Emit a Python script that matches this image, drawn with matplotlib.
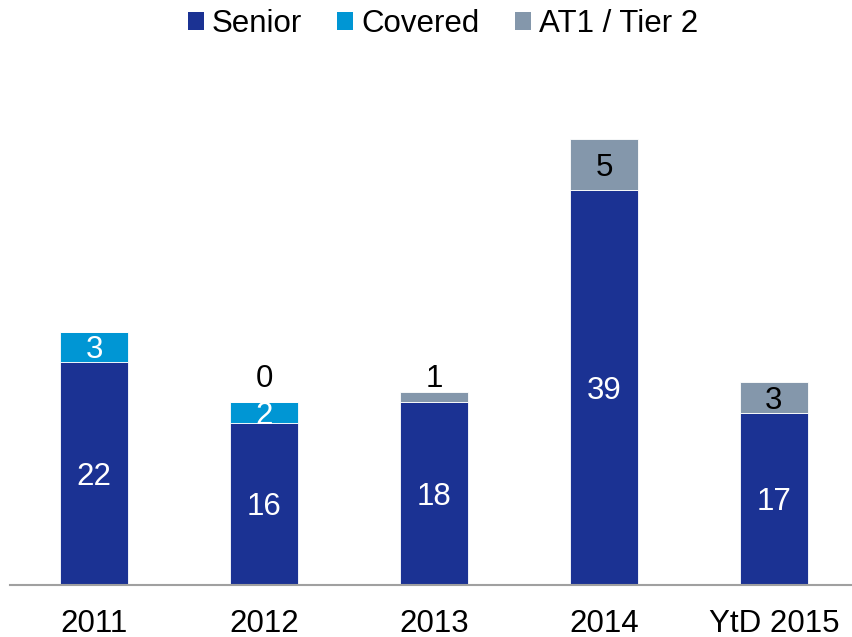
import matplotlib
matplotlib.use("Agg")
import matplotlib.pyplot as plt
from matplotlib.patches import Patch
import numpy as np

categories = ["2011", "2012", "2013", "2014", "YtD 2015"]
senior = [22, 16, 18, 39, 17]
covered = [3, 2, 0, 0, 0]
at1 = [0, 0, 1, 5, 3]
# labels shown for each series (None = no label)
senior_lbl = ["22", "16", "18", "39", "17"]
covered_lbl = ["3", "2", None, None, None]
at1_lbl = [None, "0", "1", "5", "3"]

c_senior = "#1B3293"
c_covered = "#0096D4"
c_at1 = "#8497AB"

plt.rcParams['font.family'] = ['Liberation Sans', 'DejaVu Sans']

fig = plt.figure(figsize=(8.53, 6.37), dpi=100)
ax = fig.add_axes([10/853, 52/637, 843/853, 507/637])

x = np.arange(len(categories))
w = 0.4
s = np.array(senior, float)
c = np.array(covered, float)
a = np.array(at1, float)
ax.bar(x, s, w, color=c_senior, edgecolor="white", linewidth=0.6)
ax.bar(x, c, w, bottom=s, color=c_covered, edgecolor="white", linewidth=0.6)
ax.bar(x, a, w, bottom=s + c, color=c_at1, edgecolor="white", linewidth=0.6)

fs = 22.5
off = (0, -2.5)


def lab(xx, yy, t, col):
    ax.annotate(t, (xx, yy), xytext=off, textcoords="offset points",
                ha="center", va="center", color=col, fontsize=fs)


for i in range(len(x)):
    lab(x[i], s[i] / 2, senior_lbl[i], "white")
    if covered_lbl[i] is not None:
        lab(x[i], s[i] + c[i] / 2, covered_lbl[i], "white")
    if at1_lbl[i] is not None:
        if a[i] >= 2:
            lab(x[i], s[i] + c[i] + a[i] / 2, at1_lbl[i], "black")
        else:
            lab(x[i], 20.7, at1_lbl[i], "black")

ax.set_xlim(-0.494, 4.465)
ax.set_ylim(0, 50)
ax.set_xticks(x)
ax.set_xticklabels(categories, fontsize=fs)
ax.tick_params(axis="x", length=0, pad=17)
ax.set_yticks([])
for sp in ["top", "right", "left"]:
    ax.spines[sp].set_visible(False)
ax.spines["bottom"].set_color("#A0A0A0")
ax.spines["bottom"].set_linewidth(1.5)

handles = [Patch(facecolor=c_senior, label="Senior"),
           Patch(facecolor=c_covered, label="Covered"),
           Patch(facecolor=c_at1, label="AT1 / Tier 2")]
fig.legend(handles=handles, loc="center", bbox_to_anchor=(443/853, 1 - 24/637), ncol=3,
           frameon=False, fontsize=fs, handlelength=0.52, handleheight=0.52,
           handletextpad=0.26, columnspacing=1.12)

fig.savefig("out.png", dpi=100)
